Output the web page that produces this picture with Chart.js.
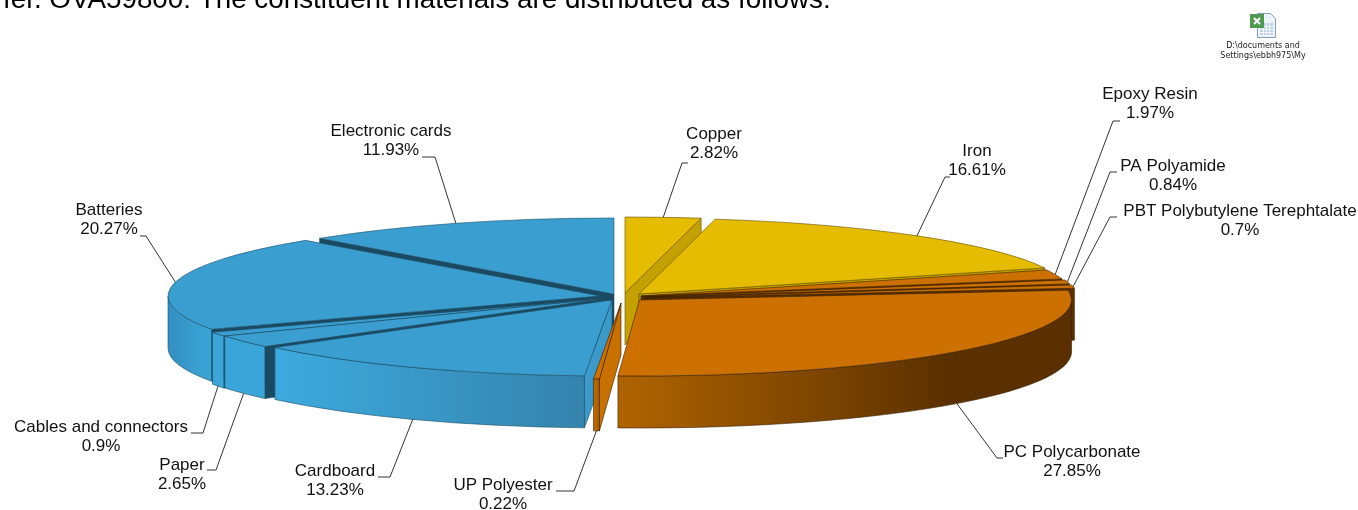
<!DOCTYPE html>
<html><head><meta charset="utf-8">
<style>html,body{margin:0;padding:0;background:#fff;overflow:hidden}#w{position:relative;width:1358px;height:510px}canvas{display:block}</style>
<script src="https://cdn.jsdelivr.net/npm/chart.js@4"></script>
</head><body><div id="w"><canvas id="c" width="1358" height="510"></canvas></div>
<script>
const categories=['Copper','Iron','Epoxy Resin','PA Polyamide','PBT Polybutylene Terephtalate','PC Polycarbonate','UP Polyester','Cardboard','Paper','Cables and connectors','Batteries','Electronic cards'];
const shares=[2.82,16.61,1.97,0.84,0.7,27.85,0.22,13.23,2.65,0.9,20.27,11.93];
const faceColors=['#E6BC00','#E6BC00','#CC7000','#CC7000','#CC7000','#CC7000','#CC7000','#3A9FD0','#3A9FD0','#3A9FD0','#3A9FD0','#3A9FD0'];

// presentation only
const RX=432,RY=76,DEPTH=52;
const apex=[[625,293],[639,294],[641,296],[644,297],[646,298],[639.5,300],[621,303],[612,300],[602,299],[601,299],[600,296],[614,294]];
const GOLD={rim:['#C4A000','#C4A000'],cw:'#C4A000',ccw:'#7A6400',line:'#5f4f00'};
const ORANGE={rim:['#B06400','#5A3000'],cw:'#5A3000',ccw:'#5A3000',line:'#3a2000'};
const UP={rim:['#C06A00','#A85C00'],cw:'#5A3000',ccw:'#C87000',line:'#3a2000'};
const BLUE={rim:['#3DAADE','#3483AC'],cw:'#3A9ACB',ccw:'#1A4A62',line:'#1f4f66'};
const CARD={rim:['#3DAADE','#3483AC'],cw:'#1A4A62',ccw:'#3A9ACB',line:'#1f4f66'};
const wallStyle=[GOLD,GOLD,ORANGE,ORANGE,ORANGE,ORANGE,UP,CARD,BLUE,BLUE,BLUE,BLUE];
const labelBox=[[714,134,682,163,688],[977,151,945,177,950],[1150,94,1113,121,1120],[1173,166,1110,172,1117],[1240,211,1110,217,1117],[1072,452,997,458,1003],[503,485,574,491,556],[335,471,390,477,378],[182,465,216,470,207],[101,427,203,433,191],[109,210,146,236,140],[391,131,435,157,422]];

function pt(i,a,extra){return [apex[i][0]+RX*Math.cos(a),apex[i][1]+RY*Math.sin(a)+(extra||0)];}
function quad(ctx,p,fill,line){ctx.beginPath();p.forEach((q,k)=>k?ctx.lineTo(q[0],q[1]):ctx.moveTo(q[0],q[1]));ctx.closePath();ctx.fillStyle=fill;ctx.fill();ctx.strokeStyle=line;ctx.lineWidth=.6;ctx.stroke();}

function drawWalls(ctx,el,i){
  const s=wallStyle[i],a0=el.startAngle,a1=el.endAngle,A=apex[i];
  const n1=[-Math.sin(a1),Math.cos(a1)];
  if(n1[1]>0){const r=pt(i,a1);quad(ctx,[A,r,[r[0],r[1]+DEPTH],[A[0],A[1]+DEPTH]],s.cw,s.line);}
  const n0=[Math.sin(a0),-Math.cos(a0)];
  if(n0[1]>0){const r=pt(i,a0);quad(ctx,[A,r,[r[0],r[1]+DEPTH],[A[0],A[1]+DEPTH]],s.ccw,s.line);}
  const lo=Math.max(a0,0),hi=Math.min(a1,Math.PI);
  if(hi>lo){
    const p0=pt(i,lo),p1=pt(i,hi);
    const xa=Math.min(p0[0],p1[0]),xb=Math.max(p0[0],p1[0]);
    const g=ctx.createLinearGradient(xa,0,i===5?950:xb,0);
    if(i===10){g.addColorStop(0,'#3490C0');g.addColorStop(1,'#3AA5D8');}
    else if(i===8||i===9){g.addColorStop(0,'#3AA5D8');g.addColorStop(1,'#3AA5D8');}
    else{g.addColorStop(0,s.rim[0]);g.addColorStop(1,s.rim[1]);}
    ctx.beginPath();
    ctx.ellipse(A[0],A[1],RX,RY,0,lo,hi,false);
    ctx.ellipse(A[0],A[1]+DEPTH,RX,RY,0,hi,lo,true);
    ctx.closePath();ctx.fillStyle=g;ctx.fill();ctx.strokeStyle=s.line;ctx.lineWidth=.6;ctx.stroke();
  }
}
function outlineFace(ctx,el,i){
  const A=apex[i];
  ctx.beginPath();ctx.moveTo(A[0],A[1]);ctx.ellipse(A[0],A[1],RX,RY,0,el.startAngle,el.endAngle,false);ctx.closePath();
  ctx.strokeStyle=wallStyle[i].line;ctx.lineWidth=.6;ctx.stroke();
}
const pie3d={id:'pie3d',
  beforeDatasetDraw(){return false;},
  afterDatasetsDraw(chart){
    const ctx=chart.ctx,arcs=chart.getDatasetMeta(0).data;
    const order=arcs.map((el,i)=>i).sort((p,q)=>{
      const y=k=>apex[k][1]+RY*Math.sin((arcs[k].startAngle+arcs[k].endAngle)/2);
      return y(p)-y(q);});
    order.forEach(i=>{
      const el=arcs[i],R=el.outerRadius;
      drawWalls(ctx,el,i);
      ctx.save();
      ctx.translate(apex[i][0],apex[i][1]);ctx.scale(RX/R,RY/R);ctx.translate(-el.x,-el.y);
      el.draw(ctx);
      ctx.restore();
      outlineFace(ctx,el,i);
    });
    ctx.font='17px "Liberation Sans", Arial, sans-serif';ctx.textAlign='center';ctx.textBaseline='middle';
    arcs.forEach((el,i)=>{
      const m=(el.startAngle+el.endAngle)/2,p=pt(i,m,Math.sin(m)>0.3?DEPTH:0),b=labelBox[i];
      ctx.beginPath();ctx.moveTo(p[0],p[1]);ctx.lineTo(b[2],b[3]);ctx.lineTo(b[4],b[3]);
      ctx.strokeStyle='#333';ctx.lineWidth=1;ctx.stroke();
      ctx.fillStyle='#111';
      ctx.fillText(categories[i],b[0],b[1]);
      ctx.fillText(shares[i]+'%',b[0],b[1]+19.5);
    });
    ctx.textAlign='left';ctx.textBaseline='alphabetic';ctx.fillStyle='#000';
    ctx.font='27.8px "Liberation Sans", Arial, sans-serif';
    ctx.fillText('fer. OVA59800: The constituent materials are distributed as follows:',3,7.5);
    // embedded file icon
    ctx.fillStyle='#eef4fb';ctx.strokeStyle='#7f9db9';ctx.lineWidth=1;
    ctx.beginPath();ctx.moveTo(1257.5,13.5);ctx.lineTo(1270.5,13.5);ctx.lineTo(1275.5,18.5);ctx.lineTo(1275.5,37.5);ctx.lineTo(1257.5,37.5);ctx.closePath();ctx.fill();ctx.stroke();
    ctx.fillStyle='#bcd2ea';ctx.fillRect(1260,23,13,12);
    ctx.fillStyle='#f4f8fd';for(let k=0;k<3;k++)ctx.fillRect(1260,26+k*3,13,1);for(let k=0;k<3;k++)ctx.fillRect(1263+k*3,23,1,12);
    ctx.fillStyle='#4f9a4f';ctx.fillRect(1250,14,14,14);
    ctx.strokeStyle='#fff';ctx.lineWidth=2;ctx.beginPath();ctx.moveTo(1254,18);ctx.lineTo(1260,24);ctx.moveTo(1260,18);ctx.lineTo(1254,24);ctx.stroke();
    ctx.textAlign='center';ctx.fillStyle='#222';ctx.font='8px "DejaVu Sans", sans-serif';
    ctx.fillText('D:\\documents and',1263,48);ctx.fillText('Settings\\ebbh975\\My',1263,58);
  }};
new Chart(document.getElementById('c'),{type:'pie',
  data:{labels:categories,datasets:[{data:shares,backgroundColor:faceColors,borderWidth:0}]},
  options:{responsive:false,animation:false,events:[],plugins:{legend:{display:false},tooltip:{enabled:false}},layout:{padding:0}},
  plugins:[pie3d]});
</script></body></html>
